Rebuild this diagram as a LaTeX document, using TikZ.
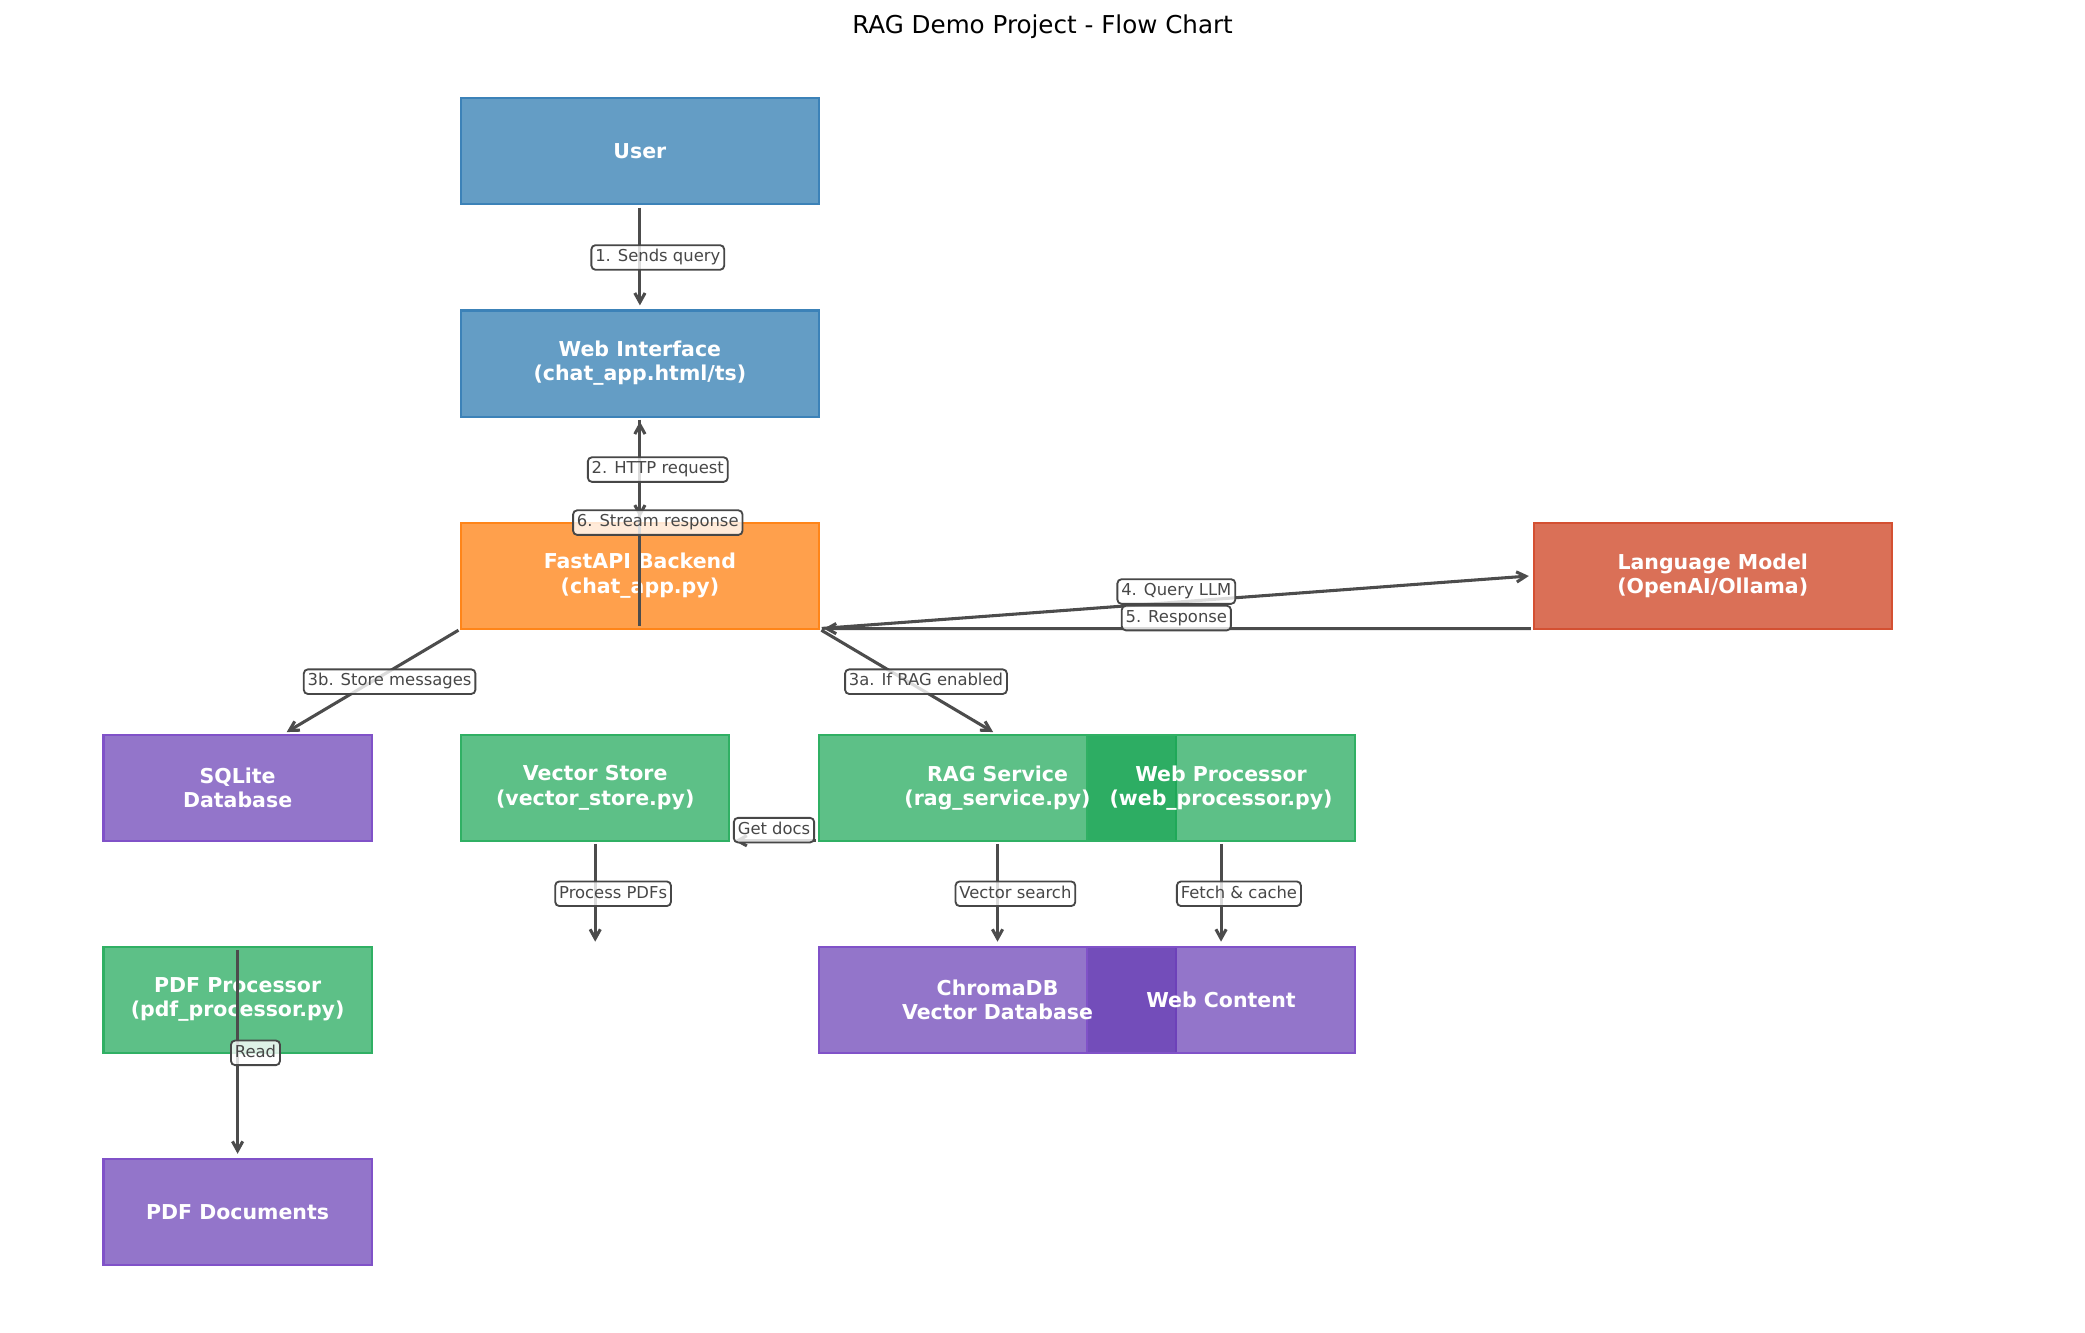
\documentclass[tikz,border=0pt]{standalone}
\usepackage{fontspec}
\setmainfont{DejaVu Sans}
\usepackage{tikz}
\usetikzlibrary{arrows.meta}
\definecolor{clientblue}{HTML}{2273AC}
\definecolor{clientedge}{HTML}{3C82B8}
\definecolor{backendorange}{HTML}{FF7700}
\definecolor{backendedge}{HTML}{FF8519}
\definecolor{modelred}{HTML}{CA3310}
\definecolor{modeledge}{HTML}{D45032}
\definecolor{servicegreen}{HTML}{18A554}
\definecolor{serviceedge}{HTML}{30B064}
\definecolor{storagepurple}{HTML}{653BB3}
\definecolor{storageedge}{HTML}{8052C8}
\tikzstyle{boxtext} = [text centered, align=center, text=white, font=\bfseries\fontsize{10}{11.8}\selectfont]
\tikzstyle{box} = [boxtext, rectangle, minimum width=174.44pt, minimum height=51.73pt, line width=1pt, fill opacity=0.7, text opacity=1, inner sep=0pt, outer sep=0pt]
\tikzstyle{narrow} = [minimum width=130.83pt]
\tikzstyle{client} = [box, fill=clientblue, draw=clientedge]
\tikzstyle{backend} = [box, fill=backendorange, draw=backendedge]
\tikzstyle{model} = [box, fill=modelred, draw=modeledge]
\tikzstyle{service} = [box, fill=servicegreen, draw=serviceedge]
\tikzstyle{storage} = [box, fill=storagepurple, draw=storageedge]
\tikzstyle{heading} = [font=\fontsize{12}{14}\selectfont, anchor=base]
\tikzstyle{lbl} = [rectangle, rounded corners=2pt, draw=black!72, line width=0.9pt, fill=white, fill opacity=0.8, text opacity=1, text=black!72, font=\fontsize{8}{9.6}\selectfont, inner xsep=1.9pt, inner ysep=2.3pt, text height=5.8pt, text depth=1.6pt]
\tikzstyle{arrow} = [line width=1.5pt, draw=black!70, -{Straight Barb[length=4.5pt,width=5pt]}, shorten >=2.5pt, shorten <=1.5pt]

\begin{document}
\begin{tikzpicture}[x=87.22pt, y=51.73pt, node distance=103.46pt]
\useasboundingbox (-0.0789,-0.141) rectangle (11.582,12.428);

\node (title) [heading] at (5.752,12.108) {RAG Demo Project - Flow Chart};

\node (user) [client] at (3.5,11) {User};
\node (web) [client, below of=user] {Web Interface\\(chat\_app.html/ts)};
\node (fastapi) [backend, below of=web] {FastAPI Backend\\(chat\_app.py)};
\node (llm) [model] at (9.5,7) {Language Model\\(OpenAI/Ollama)};
\node (sqlite) [storage, narrow] at (1.25,5) {SQLite\\Database};
\node (vecstore) [service, narrow] at (3.25,5) {Vector Store\\(vector\_store.py)};
\node (rag) [service] at (5.5,5) {};
\node (webproc) [service, narrow] at (6.75,5) {Web Processor\\(web\_processor.py)};
\node (pdfproc) [service, narrow, below of=sqlite] {PDF Processor\\(pdf\_processor.py)};
\node (chroma) [storage, below of=rag] {};
\node (webcontent) [storage, narrow, below of=webproc] {Web Content};
\node (pdfdocs) [storage, narrow, below of=pdfproc] {PDF Documents};
\node (ragtext) [boxtext] at (rag) {RAG Service\\(rag\_service.py)};
\node (chromatext) [boxtext] at (chroma) {ChromaDB\\Vector Database};
\coordinate (pdfslot) at (vecstore.south |- pdfproc.north);

\draw [arrow] (user.south) -- (web.north);
\draw [arrow] (web.south) -- (fastapi.north);
\draw [arrow] (fastapi.south) -- (web.south);
\draw [arrow] (fastapi.south west) -- ([xshift=21.8pt]sqlite.north);
\draw [arrow] (fastapi.south east) -- (rag.north);
\draw [arrow] (fastapi.south east) -- (llm.west);
\draw [arrow] (llm.south west) -- (fastapi.south east);
\draw [arrow] (rag.south west) -- (vecstore.south east);
\draw [arrow] (vecstore.south) -- (pdfslot);
\draw [arrow] (rag.south) -- (chroma.north);
\draw [arrow] (webproc.south) -- (webcontent.north);
\draw [arrow] (pdfproc.north) -- (pdfdocs.north);

\path (user.south) -- node [lbl, xshift=8.72pt] {1. Sends query} (web.north);
\path (web.south) -- node [lbl, xshift=8.72pt] {2. HTTP request} (fastapi.north);
\path (fastapi.south) -- node [lbl, xshift=8.72pt] {6. Stream response} (web.south);
\path (fastapi.south west) -- node [lbl, xshift=8.72pt] {3b. Store messages} ([xshift=21.8pt]sqlite.north);
\path (fastapi.south east) -- node [lbl, xshift=8.72pt] {3a. If RAG enabled} (rag.north);
\path (fastapi.south east) -- node [lbl, yshift=5.17pt] {4. Query LLM} (llm.west);
\path (llm.south west) -- node [lbl, yshift=5.17pt] {5. Response} (fastapi.south east);
\path (rag.south west) -- node [lbl, yshift=5.17pt] {Get docs} (vecstore.south east);
\path (vecstore.south) -- node [lbl, xshift=8.72pt] {Process PDFs} (pdfslot);
\path (rag.south) -- node [lbl, xshift=8.72pt] {Vector search} (chroma.north);
\path (webproc.south) -- node [lbl, xshift=8.72pt] {Fetch \& cache} (webcontent.north);
\path (pdfproc.north) -- node [lbl, xshift=8.72pt] {Read} (pdfdocs.north);

\end{tikzpicture}
\end{document}
